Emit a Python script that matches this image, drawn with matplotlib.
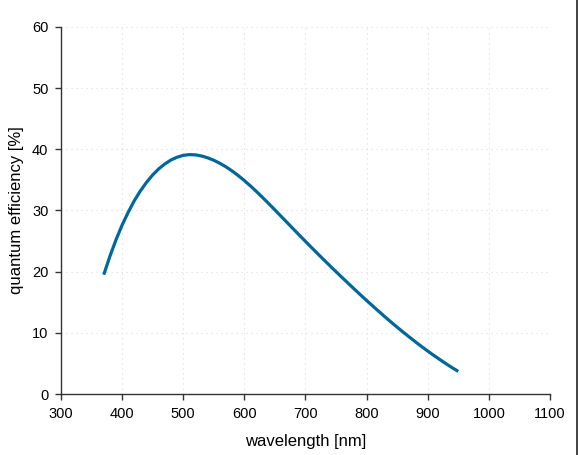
import matplotlib
matplotlib.use('Agg')
import matplotlib.pyplot as plt
from matplotlib.lines import Line2D

plt.rcParams['font.family'] = ['Liberation Sans', 'DejaVu Sans']

wavelength = list(range(370, 951, 10))
qe = [19.5, 22.5, 25.2, 27.6, 29.7, 31.6, 33.2, 34.6, 35.8, 36.8,
      37.6, 38.25, 38.7, 39.0, 39.12, 39.08, 38.9, 38.6, 38.2, 37.7,
      37.12, 36.45, 35.7, 34.88, 34.0, 33.07, 32.1, 31.1, 30.08, 29.05,
      28.02, 26.99, 25.96, 24.94, 23.93, 22.93, 21.94, 20.96, 19.99, 19.03,
      18.08, 17.14, 16.21, 15.29, 14.39, 13.5, 12.62, 11.76, 10.92, 10.1,
      9.3, 8.52, 7.76, 7.02, 6.31, 5.62, 4.95, 4.3, 3.7]

x_ticks = [300, 400, 500, 600, 700, 800, 900, 1000, 1100]
y_ticks = [0, 10, 20, 30, 40, 50, 60]

fig = plt.figure(figsize=(5.78, 4.55), dpi=100)
ax = fig.add_axes([0.1055, 0.134, 0.846, 0.807])

ax.plot(wavelength, qe, color='#00679b', lw=2.3, solid_capstyle='butt',
        solid_joinstyle='round')

ax.set_xlim(300, 1100)
ax.set_ylim(0, 60)
ax.set_xticks(x_ticks)
ax.set_yticks(y_ticks)
ax.grid(True, color='#dcdcdc', linestyle=(0, (1, 3.5)), linewidth=0.8)
ax.set_axisbelow(True)

for side in ['top', 'right']:
    ax.spines[side].set_visible(False)
for side in ['left', 'bottom']:
    ax.spines[side].set_color('#333333')
    ax.spines[side].set_linewidth(1.0)

ax.tick_params(direction='out', length=4, width=1, color='#333333',
               labelsize=10.5, labelcolor='#000000', pad=5)
ax.set_xlabel('wavelength [nm]', fontsize=12, labelpad=10)
ax.set_ylabel('quantum efficiency [%]', fontsize=12, labelpad=6)

# dark frame line at the right edge of the image
fig.add_artist(Line2D([0.9985, 0.9985], [0, 1], transform=fig.transFigure,
                      color='#222222', lw=1.2))

fig.savefig('out.png', dpi=100)
